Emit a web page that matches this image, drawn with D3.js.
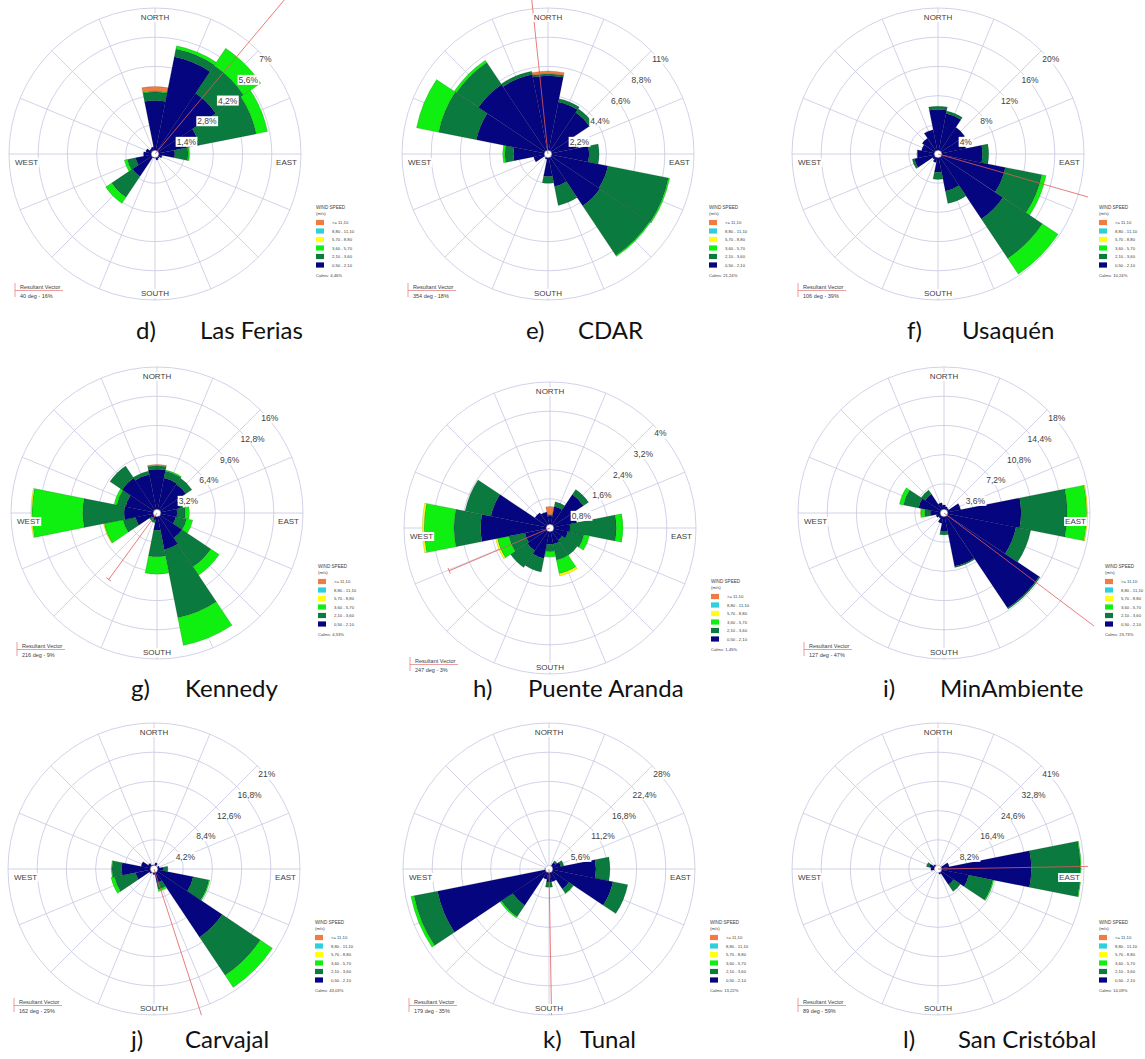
<!DOCTYPE html>
<html>
<head>
<meta charset="utf-8">
<script src="https://cdn.jsdelivr.net/npm/d3@7"></script>
<style>
  html, body { margin: 0; padding: 0; background: #fff; }
  svg { display: block; }
</style>
</head>
<body>
<svg id="chart" width="1145" height="1059"></svg>
<script>
// ---- data -------------------------------------------------------------
const directions = ["N","NNE","NE","ENE","E","ESE","SE","SSE","S","SSW","SW","WSW","W","WNW","NW","NNW"];
const speedClasses = ["0,50 - 2,10","2,10 - 3,60","3,60 - 5,70","5,70 - 8,80","8,80 - 11,10",">= 11,10"];

const stationLetters = ["d)","e)","f)","g)","h)","i)","j)","k)","l)"];
const stationNames = ["Las Ferias","CDAR","Usaquén","Kennedy","Puente Aranda","MinAmbiente","Carvajal","Tunal","San Cristóbal"];
const calms = ["4,46%","21,24%","10,24%","4,53%","1,45%","23,73%","43,03%","13,22%","14,09%"];
const resultantDeg = [40, 354, 106, 216, 247, 127, 162, 179, 89];
const resultantPct = [16, 18, 39, 9, 3, 47, 29, 35, 59];

const percentTicks = [
  [1.4, 2.8, 4.2, 5.6, 7],
  [2.2, 4.4, 6.6, 8.8, 11],
  [4, 8, 12, 16, 20],
  [3.2, 6.4, 9.6, 12.8, 16],
  [0.8, 1.6, 2.4, 3.2, 4],
  [3.6, 7.2, 10.8, 14.4, 18],
  [4.2, 8.4, 12.6, 16.8, 21],
  [5.6, 11.2, 16.8, 22.4, 28],
  [8.2, 16.4, 24.6, 32.8, 41]
];

// frequency (%) per direction (rows N..NNW) and speed class (columns, slow -> fast)
const lasFerias = [
  [2.57, 0.40, 0.05, 0, 0, 0.22],
  [4.75, 0.38, 0.16, 0, 0, 0],
  [3.50, 1.60, 1.00, 0, 0, 0],
  [2.15, 2.80, 0.55, 0, 0, 0],
  [0.95, 0.64, 0.06, 0.02, 0, 0],
  [0.35, 0, 0, 0, 0, 0],
  [0.25, 0, 0, 0, 0, 0],
  [0.30, 0, 0, 0, 0, 0],
  [0.20, 0, 0, 0, 0, 0],
  [0.20, 0, 0, 0, 0, 0],
  [1.30, 1.20, 0.35, 0, 0, 0],
  [0.95, 0.40, 0.15, 0, 0, 0],
  [0.55, 0, 0, 0, 0, 0],
  [0.45, 0, 0, 0, 0, 0],
  [0.30, 0, 0, 0, 0, 0],
  [0.35, 0, 0, 0, 0, 0]
];
const cdar = [
  [5.90, 0.15, 0, 0, 0, 0.20],
  [4.00, 0.25, 0, 0, 0, 0],
  [3.75, 0.35, 0, 0, 0, 0],
  [2.20, 0.15, 0, 0, 0, 0],
  [3.10, 0.75, 0, 0, 0, 0],
  [4.60, 4.65, 0.10, 0, 0, 0],
  [4.70, 4.50, 0.08, 0, 0, 0],
  [2.50, 1.45, 0, 0, 0, 0],
  [1.70, 0.50, 0, 0, 0, 0],
  [0.40, 0, 0, 0, 0, 0],
  [0.30, 0, 0, 0, 0, 0],
  [1.10, 0, 0, 0, 0, 0],
  [2.60, 0.65, 0.17, 0, 0, 0],
  [5.50, 2.90, 1.70, 0, 0, 0],
  [6.30, 2.00, 0.20, 0, 0, 0],
  [6.10, 0.25, 0, 0, 0, 0]
];
const usaquen = [
  [6.10, 0.45, 0, 0, 0, 0],
  [5.65, 0.35, 0, 0, 0, 0],
  [4.40, 0, 0, 0, 0, 0],
  [3.90, 0, 0, 0, 0, 0],
  [6.10, 0.85, 0, 0, 0, 0],
  [9.40, 5.10, 0.60, 0, 0, 0],
  [10.7, 6.50, 2.60, 0, 0, 0],
  [5.20, 1.70, 0, 0, 0, 0],
  [2.50, 1.00, 0, 0, 0, 0],
  [1.20, 0, 0, 0, 0, 0],
  [0.90, 0, 0, 0, 0, 0],
  [3.30, 0.30, 0, 0, 0, 0],
  [2.80, 0.10, 0, 0, 0, 0],
  [2.30, 0, 0, 0, 0, 0],
  [2.60, 0, 0, 0, 0, 0],
  [3.40, 0, 0, 0, 0, 0]
];
const kennedy = [
  [4.80, 0.35, 0.05, 0, 0, 0.12],
  [3.90, 0.80, 0.10, 0, 0, 0],
  [3.80, 0.80, 0, 0, 0, 0],
  [2.60, 0.30, 0, 0, 0, 0],
  [2.20, 0.90, 0.45, 0, 0, 0],
  [2.10, 1.20, 0.70, 0, 0, 0],
  [3.30, 3.80, 1.10, 0, 0, 0],
  [4.10, 7.60, 3.10, 0, 0, 0],
  [1.90, 2.90, 1.90, 0, 0, 0],
  [0.80, 0.30, 0, 0, 0, 0],
  [0.70, 0.30, 0, 0, 0, 0],
  [2.40, 1.40, 2.10, 0.08, 0, 0],
  [3.60, 4.55, 5.55, 0.12, 0, 0],
  [3.50, 1.00, 0.30, 0, 0, 0],
  [4.60, 1.60, 0, 0, 0, 0],
  [4.30, 0.40, 0, 0, 0, 0]
];
const puenteAranda = [
  [0.33, 0.04, 0, 0, 0, 0.22],
  [0.60, 0.13, 0, 0, 0, 0],
  [1.10, 0.17, 0, 0, 0, 0],
  [0.75, 0, 0, 0, 0, 0],
  [0.55, 1.27, 0.18, 0, 0, 0],
  [0.50, 0.45, 0.15, 0, 0, 0],
  [0.40, 0.50, 0, 0, 0, 0],
  [0.45, 0.45, 0.38, 0.06, 0, 0],
  [0.45, 0.20, 0.14, 0, 0, 0],
  [0.85, 0.38, 0, 0, 0, 0],
  [0.75, 0.55, 0, 0, 0, 0],
  [0.70, 0.45, 0.32, 0.05, 0, 0],
  [1.90, 0.73, 0.82, 0.05, 0, 0],
  [1.65, 0.72, 0, 0, 0, 0],
  [0.50, 0, 0, 0, 0, 0],
  [0.45, 0, 0, 0, 0, 0]
];
const minAmbiente = [
  [1.00, 0, 0, 0, 0, 0],
  [0.80, 0, 0, 0, 0, 0],
  [0.70, 0, 0, 0, 0, 0],
  [2.10, 0, 0, 0, 0, 0],
  [9.50, 5.70, 2.40, 0.10, 0, 0],
  [9.05, 1.85, 0, 0, 0, 0],
  [14.1, 0.15, 0, 0, 0, 0],
  [6.70, 0.15, 0, 0, 0, 0],
  [2.30, 0.40, 0, 0, 0, 0],
  [1.30, 0, 0, 0, 0, 0],
  [0.80, 0, 0, 0, 0, 0],
  [1.00, 0, 0, 0, 0, 0],
  [1.70, 0.70, 0.45, 0.05, 0, 0],
  [3.20, 1.90, 0.50, 0, 0, 0],
  [2.80, 0.60, 0, 0, 0, 0],
  [1.30, 0, 0, 0, 0, 0]
];
const carvajal = [
  [0.60, 0, 0, 0, 0, 0],
  [0.90, 0, 0, 0, 0, 0],
  [0.50, 0, 0, 0, 0, 0],
  [0.80, 0, 0, 0, 0, 0],
  [1.30, 0.70, 0, 0, 0, 0],
  [5.75, 2.30, 0.15, 0, 0, 0],
  [11.8, 6.60, 2.10, 0, 0, 0],
  [2.00, 1.00, 0.30, 0, 0, 0],
  [0.80, 0, 0, 0, 0, 0],
  [0.50, 0, 0, 0, 0, 0],
  [0.80, 0, 0, 0, 0, 0],
  [2.70, 3.10, 0.50, 0, 0, 0],
  [4.65, 1.40, 0.10, 0, 0, 0],
  [1.90, 0, 0, 0, 0, 0],
  [1.00, 0, 0, 0, 0, 0],
  [0.60, 0, 0, 0, 0, 0]
];
const tunal = [
  [0.30, 0, 0, 0, 0, 0],
  [0.50, 0, 0, 0, 0, 0],
  [1.50, 0.40, 0, 0, 0, 0],
  [2.30, 0.60, 0, 0, 0, 0],
  [9.00, 2.70, 0, 0, 0, 0],
  [12.5, 2.90, 0, 0, 0, 0],
  [4.60, 1.00, 0.10, 0, 0, 0],
  [2.50, 0, 0, 0, 0, 0],
  [2.50, 1.00, 0, 0, 0, 0],
  [2.00, 0, 0, 0, 0, 0],
  [8.40, 2.60, 0.30, 0, 0, 0],
  [21.8, 4.60, 0.60, 0, 0, 0],
  [0.80, 0, 0, 0, 0, 0],
  [0.50, 0, 0, 0, 0, 0],
  [0.30, 0, 0, 0, 0, 0],
  [0.30, 0, 0, 0, 0, 0]
];
const sanCristobal = [
  [0.80, 0, 0, 0, 0, 0],
  [0.80, 0, 0, 0, 0, 0],
  [1.00, 0, 0, 0, 0, 0],
  [3.20, 0, 0, 0, 0, 0],
  [26.2, 13.8, 0.20, 0, 0, 0],
  [8.80, 6.90, 0.30, 0, 0, 0],
  [5.30, 2.30, 0, 0, 0, 0],
  [1.50, 0, 0, 0, 0, 0],
  [0.50, 0, 0, 0, 0, 0],
  [0.50, 0, 0, 0, 0, 0],
  [0.50, 0, 0, 0, 0, 0],
  [1.00, 0, 0, 0, 0, 0],
  [2.00, 0, 0, 0, 0, 0],
  [2.50, 0.80, 0, 0, 0, 0],
  [1.50, 0, 0, 0, 0, 0],
  [0.80, 0, 0, 0, 0, 0]
];
const stationFreq = [lasFerias, cdar, usaquen, kennedy, puenteAranda, minAmbiente, carvajal, tunal, sanCristobal];

// ---- layout & style -----------------------------------------------------
const speedColors = ["#050580", "#0b7a3e", "#10f010", "#ffff12", "#2fcfdc", "#f07c44"];
const panelCenters = [[155,154],[548,154],[938,154],[157,513],[550,528],[944,513],[154,869],[549,869],[938,869]];
const captionPos = [[136,200,339],[526,578,339],[907,962,339],[131,185,697],[473,528,697],[883,940,697],[131,185,1048],[543,580,1048],[903,958,1048]];
const R = 146;
const gridColor = "#c6c6e2";
const axisFont = "'Liberation Sans', Arial, Helvetica, sans-serif";
const captionFont = "Lato, 'Open Sans', sans-serif";
const textColor = "#404040";
const vectorColor = "#e25a5a";

const svg = d3.select("#chart");
const rad = d => d * Math.PI / 180;
const fmtPct = v => String(v).replace(".", ",") + "%";

function boxedText(parent, x, y, str, size, anchor) {
  const t = parent.append("text")
    .attr("x", x).attr("y", y)
    .attr("font-family", axisFont)
    .attr("font-size", size)
    .attr("text-anchor", anchor)
    .attr("fill", textColor)
    .text(str);
  const b = t.node().getBBox();
  parent.insert("rect", () => t.node())
    .attr("x", b.x - 1).attr("y", b.y)
    .attr("width", b.width + 2).attr("height", b.height)
    .attr("fill", "#fff");
  return t;
}

const arc = d3.arc();

stationFreq.forEach((freq, i) => {
  const [cx, cy] = panelCenters[i];
  const ticks = percentTicks[i];
  const r = d3.scaleLinear().domain([0, d3.max(ticks)]).range([0, R]);
  const g = svg.append("g").attr("transform", `translate(${cx},${cy})`);

  // grid: rings and 16 spokes
  const grid = g.append("g").attr("fill", "none").attr("stroke", gridColor).attr("stroke-width", 0.8);
  grid.selectAll("circle").data(ticks).join("circle").attr("r", d => r(d));
  grid.selectAll("line").data(directions).join("line")
    .attr("x1", 0).attr("y1", 0)
    .attr("x2", (d, k) => R * Math.sin(rad(k * 22.5)))
    .attr("y2", (d, k) => -R * Math.cos(rad(k * 22.5)));

  // stacked sectors
  const segments = [];
  freq.forEach((row, k) => {
    let acc = 0;
    row.forEach((v, j) => {
      if (v > 0) {
        segments.push({ k, j, inner: acc, outer: acc + v });
        acc += v;
      }
    });
  });
  g.append("g").selectAll("path").data(segments).join("path")
    .attr("d", s => arc({
      innerRadius: r(s.inner),
      outerRadius: r(s.outer),
      startAngle: rad(s.k * 22.5 - 11.25),
      endAngle: rad(s.k * 22.5 + 11.25)
    }))
    .attr("fill", s => speedColors[s.j])
    .attr("stroke", "rgba(0,0,0,0.28)")
    .attr("stroke-width", 0.5);

  // calm circle
  g.append("circle").attr("r", 3.6).attr("fill", "#fff").attr("stroke", "#9a9ab8").attr("stroke-width", 0.4);

  // resultant vector, clipped to the plot frame
  const clipId = "clip" + i;
  g.append("clipPath").attr("id", clipId).append("rect")
    .attr("x", -152).attr("y", -154).attr("width", 302).attr("height", 300);
  const a = rad(resultantDeg[i]);
  const len = r(resultantPct[i]);
  const ex = len * Math.sin(a), ey = -len * Math.cos(a);
  const vg = g.append("g").attr("clip-path", `url(#${clipId})`)
    .attr("stroke", vectorColor).attr("stroke-width", 0.8);
  vg.append("line").attr("x1", 0).attr("y1", 0).attr("x2", ex).attr("y2", ey);
  vg.append("line")
    .attr("x1", ex - 3 * Math.cos(a)).attr("y1", ey - 3 * Math.sin(a))
    .attr("x2", ex + 3 * Math.cos(a)).attr("y2", ey + 3 * Math.sin(a));

  // percentage labels along the NE diagonal
  ticks.forEach(t => {
    const p = r(t) * Math.SQRT1_2;
    boxedText(g, p + 1, -p + 11.5, fmtPct(t), 8.5, "start");
  });

  // compass labels
  boxedText(g, 0, -R + 12, "NORTH", 8, "middle");
  boxedText(g, 0, R - 4, "SOUTH", 8, "middle");
  boxedText(g, -R + 6, 11, "WEST", 8, "start");
  boxedText(g, R - 4, 11, "EAST", 8, "end");

  // resultant vector note
  const rv = g.append("g");
  rv.append("line").attr("x1", -140).attr("x2", -92).attr("y1", 136.5).attr("y2", 136.5)
    .attr("stroke", vectorColor).attr("stroke-width", 0.6);
  rv.append("line").attr("x1", -140).attr("x2", -140).attr("y1", 129).attr("y2", 143)
    .attr("stroke", vectorColor).attr("stroke-width", 0.6);
  rv.append("text").attr("x", -135).attr("y", 134.5)
    .attr("font-family", axisFont).attr("font-size", 5.5).attr("fill", textColor)
    .text("Resultant Vector");
  rv.append("text").attr("x", -135).attr("y", 143.5)
    .attr("font-family", axisFont).attr("font-size", 5.5).attr("fill", textColor)
    .text(`${resultantDeg[i]} deg - ${resultantPct[i]}%`);

  // speed legend
  const lg = g.append("g").attr("transform", "translate(161,0)")
    .attr("font-family", axisFont).attr("fill", textColor);
  lg.append("text").attr("x", 0).attr("y", 54.5).attr("font-size", 4.6).text("WIND SPEED");
  lg.append("text").attr("x", 0).attr("y", 61).attr("font-size", 4.3).text("(m/s)");
  const order = d3.range(speedClasses.length).reverse();
  order.forEach((j, n) => {
    const yc = 68.5 + n * 8.5;
    lg.append("rect").attr("x", 0).attr("y", yc - 2.6).attr("width", 8).attr("height", 5.2)
      .attr("fill", speedColors[j]);
    lg.append("text").attr("x", 16).attr("y", yc + 1.5).attr("font-size", 4.2).text(speedClasses[j]);
  });
  lg.append("text").attr("x", 0).attr("y", 122.5).attr("font-size", 4.2).text("Calms: " + calms[i]);
});

// captions under each rose
captionPos.forEach(([lx, nx, y], i) => {
  svg.append("text").attr("x", lx).attr("y", y)
    .attr("font-family", captionFont).attr("font-size", 24).attr("fill", "#111")
    .text(stationLetters[i]);
  svg.append("text").attr("x", nx).attr("y", y)
    .attr("font-family", captionFont).attr("font-size", 24).attr("fill", "#111")
    .text(stationNames[i]);
});
</script>
</body>
</html>
